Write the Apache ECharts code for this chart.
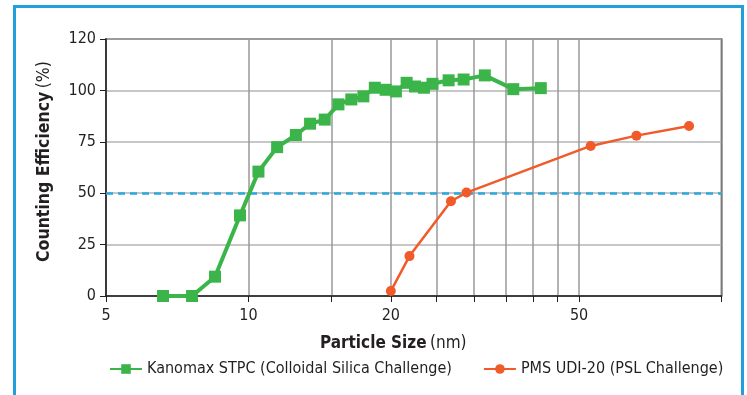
<!DOCTYPE html>
<html>
<head>
<meta charset="utf-8">
<script src="https://cdn.jsdelivr.net/npm/echarts@6/dist/echarts.min.js"></script>
<style>
html, body { margin: 0; padding: 0; background: #fff; }
#chart { width: 747px; height: 395px; }
</style>
</head>
<body>
<div id="chart"></div>
<script>
// particle size (nm) / counting efficiency (%)
const stpcSize = [6.6, 7.6, 8.5, 9.6, 10.5, 11.5, 12.6, 13.5, 14.5, 15.5, 16.5, 17.5, 18.5, 19.5, 20.5, 21.6, 22.5, 23.5, 24.5, 26.5, 28.5, 31.6, 36.3, 41.5];
const stpcEff = [0, 0, 9.4, 39.2, 60.5, 72.4, 78.3, 83.8, 85.8, 93.2, 95.6, 97.1, 101.3, 100.3, 99.5, 103.7, 101.9, 101.3, 103.2, 104.9, 105.3, 107.3, 100.6, 101.1];
const pmsSize = [20, 21.9, 26.8, 28.9, 52.9, 66.1, 85.4];
const pmsEff = [2.4, 19.4, 46.1, 50.3, 73.0, 78.0, 82.7];

const xLabelValues = [5, 10, 20, 50];
const xTickValues = [5, 10, 15, 20, 25, 30, 35, 40, 45, 50, 100];
const yTickLabels = ['0', '25', '50', '75', '100', '120'];
const refLine = 50;

const seriesNames = ['Kanomax STPC (Colloidal Silica Challenge)', 'PMS UDI-20 (PSL Challenge)'];

const font = "'DejaVu Sans Condensed', 'Liberation Sans', sans-serif";
const green = '#3bb44a', orange = '#f15a29', blue = '#27a9e1';

const zip = (a, b) => a.map((v, i) => [v, b[i]]);

const option = {
    animation: false,
    textStyle: { fontFamily: font },
    graphic: [
        {
            type: 'rect',
            shape: { x: 14.5, y: 6.5, width: 728, height: 400 },
            style: { fill: 'none', stroke: '#22a0db', lineWidth: 3 },
        },
    ],
    grid: {
        left: 106,
        right: 25.5,
        top: 39,
        bottom: 99,
        show: true,
        borderColor: '#231f20',
        borderWidth: 1.5,
    },
    legend: {
        left: 104,
        top: 356,
        width: 640,
        itemWidth: 32,
        itemHeight: 12,
        itemGap: 31,
        textStyle: { fontFamily: font, fontSize: 16, color: '#231f20' },
        data: seriesNames,
    },
    xAxis: {
        type: 'log',
        logBase: 10,
        min: 5,
        max: 100,
        name: '{b|Particle Size} {n|(nm)}',
        nameLocation: 'middle',
        nameGap: 39,
        nameTextStyle: {
            padding: [0, 41, 0, 0],
            rich: {
                b: { fontFamily: font, fontSize: 17, fontWeight: 'bold', color: '#231f20' },
                n: { fontFamily: font, fontSize: 17, color: '#231f20' },
            },
        },
        axisLine: { show: true, lineStyle: { color: '#231f20', width: 1.5 } },
        axisTick: { show: true, length: 6, customValues: xTickValues, lineStyle: { color: '#231f20' } },
        axisLabel: { customValues: xLabelValues, fontSize: 16, color: '#231f20', margin: 12 },
        splitLine: { show: true, lineStyle: { color: '#999', width: 1.5 } },
        minorSplitLine: { show: false },
    },
    yAxis: {
        type: 'value',
        min: 0,
        max: 125,
        interval: 25,
        name: '{b|Counting Efficiency} {n|(%)}',
        nameLocation: 'middle',
        nameGap: 53,
        nameRotate: 90,
        nameTextStyle: {
            padding: [0, 0, 0, 12],
            rich: {
                b: { fontFamily: font, fontSize: 17.5, fontWeight: 'bold', color: '#231f20' },
                n: { fontFamily: font, fontSize: 17.5, color: '#231f20' },
            },
        },
        axisLine: { show: true, lineStyle: { color: '#231f20', width: 1.5 } },
        axisTick: { show: true, length: 6, lineStyle: { color: '#231f20' } },
        axisLabel: {
            fontSize: 16,
            color: '#231f20',
            margin: 10,
            formatter: (v) => yTickLabels[Math.round(v / 25)],
        },
        splitLine: { show: true, lineStyle: { color: '#b5b5b5', width: 1.5 } },
    },
    series: [
        {
            name: seriesNames[0],
            type: 'line',
            data: zip(stpcSize, stpcEff),
            symbol: 'rect',
            symbolSize: 12,
            itemStyle: { color: green },
            lineStyle: { color: green, width: 4 },
            z: 3,
            markLine: {
                silent: true,
                symbol: 'none',
                label: { show: false },
                lineStyle: { color: blue, type: [7, 5], width: 2.5 },
                data: [{ yAxis: refLine }],
                z: 1,
            },
        },
        {
            name: seriesNames[1],
            type: 'line',
            data: zip(pmsSize, pmsEff),
            symbol: 'circle',
            symbolSize: 10,
            itemStyle: { color: orange },
            lineStyle: { color: orange, width: 2.5 },
            z: 4,
        },
    ],
};

const myChart = echarts.init(document.getElementById('chart'));
myChart.setOption(option);
</script>
</body>
</html>
